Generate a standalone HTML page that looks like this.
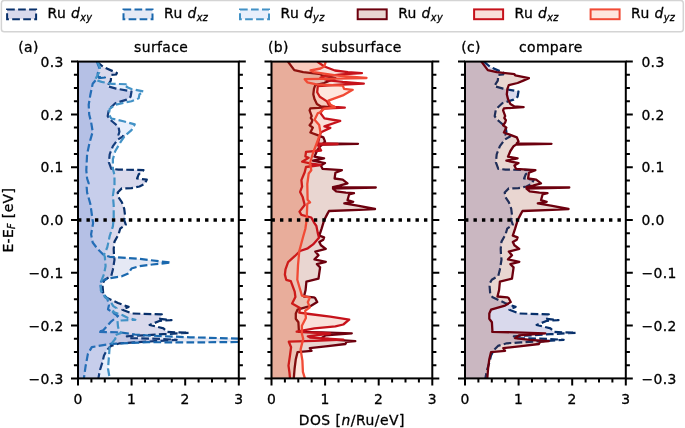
<!DOCTYPE html>
<html><head><meta charset="utf-8"><title>DOS</title><style>
html,body{margin:0;padding:0;background:#fff}
svg{display:block;will-change:transform}
text{font-family:"DejaVu Sans","Liberation Sans",sans-serif;font-size:13.9px;fill:#000;letter-spacing:0.38px;stroke:#000;stroke-width:0.3px}
.i{font-style:italic}
.s{font-size:9.7px;font-style:italic}
</style></head><body>
<svg width="685" height="428" viewBox="0 0 685 428">
<rect width="685" height="428" fill="#fff"/>
<defs>
<clipPath id="c0"><rect x="78.0" y="61.6" width="160.8" height="316.8"/></clipPath>
<clipPath id="c1"><rect x="271.5" y="61.6" width="160.8" height="316.8"/></clipPath>
<clipPath id="c2"><rect x="465.0" y="61.6" width="160.8" height="316.8"/></clipPath>
</defs>
<g clip-path="url(#c0)">
<polygon points="78.0,61.6 96.8,61.6 103.2,66.9 116.9,73.0 116.1,74.5 111.3,74.8 110.8,80.6 107.3,86.2 116.1,88.6 131.5,91.5 130.6,96.7 126.6,99.6 115.3,103.2 108.9,109.3 107.7,116.1 109.7,119.3 112.9,122.0 118.5,126.8 119.4,131.7 118.5,134.9 123.4,136.2 117.7,139.7 112.9,146.2 109.7,154.3 108.9,162.3 111.3,168.8 118.5,169.6 143.5,170.1 138.7,174.4 137.1,178.5 146.8,179.7 144.4,184.1 139.5,186.5 131.5,188.1 121.8,188.4 117.7,192.5 118.5,197.3 121.8,202.1 124.2,208.6 125.0,215.0 124.2,220.2 125.8,224.7 120.2,228.7 118.5,234.4 114.5,241.6 113.7,248.9 114.0,255.0 114.5,259.7 112.9,269.4 111.3,275.8 104.8,279.8 102.4,283.9 103.2,293.5 105.6,297.3 118.0,303.0 128.6,306.9 122.4,309.7 132.0,313.5 161.8,314.4 160.0,318.8 171.5,320.2 160.0,320.8 149.6,324.9 163.6,328.4 167.0,331.9 189.0,332.8 163.6,334.2 126.8,336.3 128.6,338.0 160.0,338.9 176.7,339.8 154.8,341.2 133.8,342.4 119.8,343.3 111.0,345.9 106.7,350.3 104.0,355.6 102.3,362.6 99.7,371.0 98.4,378.4 78.0,378.4" fill="rgba(0,0,128,0.15)"/>
<polyline points="96.8,61.6 103.2,66.9 116.9,73.0 116.1,74.5 111.3,74.8 110.8,80.6 107.3,86.2 116.1,88.6 131.5,91.5 130.6,96.7 126.6,99.6 115.3,103.2 108.9,109.3 107.7,116.1 109.7,119.3 112.9,122.0 118.5,126.8 119.4,131.7 118.5,134.9 123.4,136.2 117.7,139.7 112.9,146.2 109.7,154.3 108.9,162.3 111.3,168.8 118.5,169.6 143.5,170.1 138.7,174.4 137.1,178.5 146.8,179.7 144.4,184.1 139.5,186.5 131.5,188.1 121.8,188.4 117.7,192.5 118.5,197.3 121.8,202.1 124.2,208.6 125.0,215.0 124.2,220.2 125.8,224.7 120.2,228.7 118.5,234.4 114.5,241.6 113.7,248.9 114.0,255.0 114.5,259.7 112.9,269.4 111.3,275.8 104.8,279.8 102.4,283.9 103.2,293.5 105.6,297.3 118.0,303.0 128.6,306.9 122.4,309.7 132.0,313.5 161.8,314.4 160.0,318.8 171.5,320.2 160.0,320.8 149.6,324.9 163.6,328.4 167.0,331.9 189.0,332.8 163.6,334.2 126.8,336.3 128.6,338.0 160.0,338.9 176.7,339.8 154.8,341.2 133.8,342.4 119.8,343.3 111.0,345.9 106.7,350.3 104.0,355.6 102.3,362.6 99.7,371.0 98.4,378.4" fill="none" stroke="#08306b" stroke-width="2.20" stroke-linejoin="round" stroke-dasharray="7.7 3.3"/>
<polygon points="78.0,61.6 96.8,61.6 99.2,67.7 97.6,74.1 98.3,77.0 105.0,77.5 98.0,78.3 95.0,81.0 92.7,83.8 90.3,95.1 88.7,104.8 89.2,114.5 91.1,122.0 92.7,131.7 89.5,143.0 87.1,154.3 86.3,170.4 87.1,178.5 88.7,183.3 86.6,186.0 87.1,192.5 90.3,203.7 91.9,215.0 93.1,223.1 91.1,234.4 92.7,242.5 97.6,248.9 103.2,254.5 109.7,256.8 139.5,258.9 171.0,262.6 152.4,264.5 139.5,266.1 131.5,268.5 128.2,273.4 121.8,276.3 107.3,278.7 100.0,282.0 101.6,291.9 107.3,298.4 109.0,305.0 108.0,309.3 112.0,312.0 118.0,316.0 110.7,321.9 103.3,330.3 98.1,331.9 120.0,332.3 135.0,334.5 148.0,335.5 190.0,337.3 239.0,338.6 262.0,340.3 239.0,342.0 190.0,342.4 148.0,342.2 110.7,343.9 91.8,347.1 87.9,353.9 85.5,366.8 83.9,378.4 78.0,378.4" fill="rgba(82,110,190,0.15)"/>
<polyline points="96.8,61.6 99.2,67.7 97.6,74.1 98.3,77.0 105.0,77.5 98.0,78.3 95.0,81.0 92.7,83.8 90.3,95.1 88.7,104.8 89.2,114.5 91.1,122.0 92.7,131.7 89.5,143.0 87.1,154.3 86.3,170.4 87.1,178.5 88.7,183.3 86.6,186.0 87.1,192.5 90.3,203.7 91.9,215.0 93.1,223.1 91.1,234.4 92.7,242.5 97.6,248.9 103.2,254.5 109.7,256.8 139.5,258.9 171.0,262.6 152.4,264.5 139.5,266.1 131.5,268.5 128.2,273.4 121.8,276.3 107.3,278.7 100.0,282.0 101.6,291.9 107.3,298.4 109.0,305.0 108.0,309.3 112.0,312.0 118.0,316.0 110.7,321.9 103.3,330.3 98.1,331.9 120.0,332.3 135.0,334.5 148.0,335.5 190.0,337.3 239.0,338.6 262.0,340.3 239.0,342.0 190.0,342.4 148.0,342.2 110.7,343.9 91.8,347.1 87.9,353.9 85.5,366.8 83.9,378.4" fill="none" stroke="#1a68ae" stroke-width="2.20" stroke-linejoin="round" stroke-dasharray="7.7 3.3"/>
<polygon points="78.0,61.6 97.6,61.6 100.0,67.7 99.2,72.5 96.8,76.5 95.2,79.8 101.6,81.9 112.1,83.8 128.2,84.3 126.6,87.0 131.5,89.0 143.5,91.5 139.5,94.3 138.7,98.3 131.5,101.2 115.3,104.8 109.7,108.8 108.9,114.5 111.3,118.5 123.4,121.2 134.7,124.4 131.5,130.1 125.0,135.7 121.0,141.4 115.3,151.0 112.9,159.1 112.9,168.8 114.5,175.2 114.5,184.9 112.9,195.7 113.7,205.4 113.7,218.3 112.9,226.3 109.7,236.0 107.3,247.3 104.0,255.0 104.8,256.5 105.6,266.1 104.0,274.2 100.8,282.3 100.8,290.3 104.8,296.8 110.5,301.6 113.3,306.1 116.5,308.2 112.8,311.9 122.2,315.0 128.0,318.0 135.4,319.8 121.0,320.5 117.5,321.0 118.0,326.6 119.0,330.3 121.2,332.9 114.4,335.5 115.4,338.7 110.7,344.5 109.7,346.7 108.9,357.2 108.0,368.5 109.7,378.4 78.0,378.4" fill="rgba(100,149,237,0.15)"/>
<polyline points="97.6,61.6 100.0,67.7 99.2,72.5 96.8,76.5 95.2,79.8 101.6,81.9 112.1,83.8 128.2,84.3 126.6,87.0 131.5,89.0 143.5,91.5 139.5,94.3 138.7,98.3 131.5,101.2 115.3,104.8 109.7,108.8 108.9,114.5 111.3,118.5 123.4,121.2 134.7,124.4 131.5,130.1 125.0,135.7 121.0,141.4 115.3,151.0 112.9,159.1 112.9,168.8 114.5,175.2 114.5,184.9 112.9,195.7 113.7,205.4 113.7,218.3 112.9,226.3 109.7,236.0 107.3,247.3 104.0,255.0 104.8,256.5 105.6,266.1 104.0,274.2 100.8,282.3 100.8,290.3 104.8,296.8 110.5,301.6 113.3,306.1 116.5,308.2 112.8,311.9 122.2,315.0 128.0,318.0 135.4,319.8 121.0,320.5 117.5,321.0 118.0,326.6 119.0,330.3 121.2,332.9 114.4,335.5 115.4,338.7 110.7,344.5 109.7,346.7 108.9,357.2 108.0,368.5 109.7,378.4" fill="none" stroke="#4292c6" stroke-width="2.20" stroke-linejoin="round" stroke-dasharray="7.7 3.3"/>
</g>
<g clip-path="url(#c1)">
<polygon points="271.5,61.6 287.9,61.6 294.3,70.1 303.2,72.2 320.9,74.1 321.7,75.4 335.4,78.2 329.8,80.6 324.1,83.0 315.3,85.1 314.0,88.6 313.3,94.3 314.5,99.1 316.9,104.0 320.9,106.4 330.1,107.2 310.4,108.3 309.6,110.4 310.8,113.6 311.7,116.1 310.8,118.0 312.4,120.1 311.7,122.5 309.6,125.2 312.9,127.6 310.4,132.5 316.9,134.9 323.3,137.3 325.0,141.4 323.3,143.3 358.0,143.8 322.5,144.6 320.1,146.2 316.9,151.0 314.5,156.7 324.1,158.3 312.9,160.7 325.0,163.1 320.9,165.5 322.5,168.8 341.9,170.1 335.4,172.8 334.6,178.5 342.7,179.7 347.5,183.3 339.5,185.7 333.0,187.2 375.8,187.5 333.0,188.6 336.2,191.3 345.9,192.6 354.0,193.2 349.1,194.5 347.5,200.2 353.2,201.8 344.3,203.4 358.8,205.8 375.0,209.0 358.8,209.8 329.0,211.0 327.4,213.9 324.1,220.3 321.7,228.4 319.3,235.6 324.1,237.3 323.3,239.7 319.3,242.1 320.9,245.3 325.8,248.9 315.3,251.6 318.5,255.3 314.5,259.4 325.8,261.8 316.9,264.2 320.1,267.4 318.5,278.7 306.4,281.6 305.6,290.0 304.0,296.5 313.7,297.3 315.1,298.0 317.2,302.1 311.5,305.6 297.5,309.7 295.8,313.5 295.8,318.8 298.4,322.3 298.9,331.0 298.7,331.8 322.1,332.4 351.8,333.3 325.5,335.4 321.5,338.2 336.1,339.8 355.3,341.2 346.5,341.9 345.4,344.0 327.9,346.1 309.8,348.1 311.5,350.8 297.5,352.2 295.8,359.2 294.6,368.5 293.8,378.4 271.5,378.4" fill="rgba(140,35,10,0.19)"/>
<polyline points="287.9,61.6 294.3,70.1 303.2,72.2 320.9,74.1 321.7,75.4 335.4,78.2 329.8,80.6 324.1,83.0 315.3,85.1 314.0,88.6 313.3,94.3 314.5,99.1 316.9,104.0 320.9,106.4 330.1,107.2 310.4,108.3 309.6,110.4 310.8,113.6 311.7,116.1 310.8,118.0 312.4,120.1 311.7,122.5 309.6,125.2 312.9,127.6 310.4,132.5 316.9,134.9 323.3,137.3 325.0,141.4 323.3,143.3 358.0,143.8 322.5,144.6 320.1,146.2 316.9,151.0 314.5,156.7 324.1,158.3 312.9,160.7 325.0,163.1 320.9,165.5 322.5,168.8 341.9,170.1 335.4,172.8 334.6,178.5 342.7,179.7 347.5,183.3 339.5,185.7 333.0,187.2 375.8,187.5 333.0,188.6 336.2,191.3 345.9,192.6 354.0,193.2 349.1,194.5 347.5,200.2 353.2,201.8 344.3,203.4 358.8,205.8 375.0,209.0 358.8,209.8 329.0,211.0 327.4,213.9 324.1,220.3 321.7,228.4 319.3,235.6 324.1,237.3 323.3,239.7 319.3,242.1 320.9,245.3 325.8,248.9 315.3,251.6 318.5,255.3 314.5,259.4 325.8,261.8 316.9,264.2 320.1,267.4 318.5,278.7 306.4,281.6 305.6,290.0 304.0,296.5 313.7,297.3 315.1,298.0 317.2,302.1 311.5,305.6 297.5,309.7 295.8,313.5 295.8,318.8 298.4,322.3 298.9,331.0 298.7,331.8 322.1,332.4 351.8,333.3 325.5,335.4 321.5,338.2 336.1,339.8 355.3,341.2 346.5,341.9 345.4,344.0 327.9,346.1 309.8,348.1 311.5,350.8 297.5,352.2 295.8,359.2 294.6,368.5 293.8,378.4" fill="none" stroke="#6d000e" stroke-width="2.30" stroke-linejoin="round"/>
<polygon points="271.5,61.6 317.2,61.6 324.4,66.5 334.9,70.5 348.0,72.2 361.9,73.1 341.5,74.4 324.4,76.4 320.5,77.7 328.4,80.3 342.8,81.9 363.8,83.6 342.8,84.5 317.8,86.2 317.2,92.2 319.8,96.8 327.0,101.4 329.0,105.3 334.9,106.9 344.8,107.6 323.0,108.5 320.5,113.1 324.4,118.4 340.2,121.0 324.4,126.3 330.3,127.9 321.1,132.2 319.8,135.5 318.0,143.5 337.6,144.0 317.8,144.6 321.1,150.5 306.0,151.9 305.4,156.5 308.7,157.8 302.1,161.7 311.3,163.7 320.5,165.0 306.0,167.0 304.7,172.2 301.4,180.1 302.1,186.7 300.1,191.9 302.7,197.1 304.7,205.0 299.5,211.6 301.4,214.9 311.3,217.5 314.6,223.4 316.4,226.0 317.7,232.6 319.0,237.8 313.1,244.4 307.8,248.3 300.0,251.0 294.7,256.2 288.1,262.1 285.5,269.4 284.9,274.6 286.2,279.8 290.8,281.1 294.7,291.7 295.4,296.9 292.1,303.5 300.0,308.1 299.3,312.7 309.2,314.0 330.2,316.6 349.2,319.7 343.3,324.5 335.4,326.4 314.4,328.4 296.7,331.7 330.2,333.5 307.8,336.3 310.5,337.6 343.3,339.6 314.4,340.9 288.8,341.7 291.1,347.2 290.0,355.4 288.5,365.7 289.5,372.9 290.0,378.4 271.5,378.4" fill="rgba(215,50,10,0.15)"/>
<polyline points="317.2,61.6 324.4,66.5 334.9,70.5 348.0,72.2 361.9,73.1 341.5,74.4 324.4,76.4 320.5,77.7 328.4,80.3 342.8,81.9 363.8,83.6 342.8,84.5 317.8,86.2 317.2,92.2 319.8,96.8 327.0,101.4 329.0,105.3 334.9,106.9 344.8,107.6 323.0,108.5 320.5,113.1 324.4,118.4 340.2,121.0 324.4,126.3 330.3,127.9 321.1,132.2 319.8,135.5 318.0,143.5 337.6,144.0 317.8,144.6 321.1,150.5 306.0,151.9 305.4,156.5 308.7,157.8 302.1,161.7 311.3,163.7 320.5,165.0 306.0,167.0 304.7,172.2 301.4,180.1 302.1,186.7 300.1,191.9 302.7,197.1 304.7,205.0 299.5,211.6 301.4,214.9 311.3,217.5 314.6,223.4 316.4,226.0 317.7,232.6 319.0,237.8 313.1,244.4 307.8,248.3 300.0,251.0 294.7,256.2 288.1,262.1 285.5,269.4 284.9,274.6 286.2,279.8 290.8,281.1 294.7,291.7 295.4,296.9 292.1,303.5 300.0,308.1 299.3,312.7 309.2,314.0 330.2,316.6 349.2,319.7 343.3,324.5 335.4,326.4 314.4,328.4 296.7,331.7 330.2,333.5 307.8,336.3 310.5,337.6 343.3,339.6 314.4,340.9 288.8,341.7 291.1,347.2 290.0,355.4 288.5,365.7 289.5,372.9 290.0,378.4" fill="none" stroke="#c6121b" stroke-width="2.30" stroke-linejoin="round"/>
<polygon points="271.5,61.6 325.7,61.6 324.4,66.5 320.5,68.5 310.6,70.5 313.9,72.2 337.6,75.7 366.5,78.0 337.6,78.6 304.7,79.2 307.3,82.3 316.5,84.3 342.8,85.6 344.1,88.9 352.7,89.8 342.8,95.4 328.4,100.7 330.3,104.6 334.9,107.3 324.4,108.6 319.8,112.5 317.9,113.1 314.6,119.7 319.2,125.0 320.5,132.8 317.2,142.0 313.2,152.5 310.0,163.0 311.3,170.2 308.7,173.5 307.3,184.0 307.6,199.8 310.0,202.4 307.3,203.7 306.7,219.5 305.4,228.7 303.2,236.5 299.3,251.0 298.0,265.4 297.3,279.8 300.0,289.0 301.9,295.6 309.8,297.6 307.8,302.2 309.8,307.4 305.2,310.7 305.9,317.9 301.9,325.8 301.9,333.7 303.2,338.9 300.6,349.4 302.4,360.6 302.9,371.9 304.9,378.4 271.5,378.4" fill="rgba(245,90,30,0.15)"/>
<polyline points="325.7,61.6 324.4,66.5 320.5,68.5 310.6,70.5 313.9,72.2 337.6,75.7 366.5,78.0 337.6,78.6 304.7,79.2 307.3,82.3 316.5,84.3 342.8,85.6 344.1,88.9 352.7,89.8 342.8,95.4 328.4,100.7 330.3,104.6 334.9,107.3 324.4,108.6 319.8,112.5 317.9,113.1 314.6,119.7 319.2,125.0 320.5,132.8 317.2,142.0 313.2,152.5 310.0,163.0 311.3,170.2 308.7,173.5 307.3,184.0 307.6,199.8 310.0,202.4 307.3,203.7 306.7,219.5 305.4,228.7 303.2,236.5 299.3,251.0 298.0,265.4 297.3,279.8 300.0,289.0 301.9,295.6 309.8,297.6 307.8,302.2 309.8,307.4 305.2,310.7 305.9,317.9 301.9,325.8 301.9,333.7 303.2,338.9 300.6,349.4 302.4,360.6 302.9,371.9 304.9,378.4" fill="none" stroke="#f14a35" stroke-width="2.30" stroke-linejoin="round"/>
</g>
<g clip-path="url(#c2)">
<polygon points="465.0,61.6 483.8,61.6 490.2,66.9 503.9,73.0 503.1,74.5 498.3,74.8 497.8,80.6 494.3,86.2 503.1,88.6 518.5,91.5 517.6,96.7 513.6,99.6 502.3,103.2 495.9,109.3 494.7,116.1 496.7,119.3 499.9,122.0 505.5,126.8 506.4,131.7 505.5,134.9 510.4,136.2 504.7,139.7 499.9,146.2 496.7,154.3 495.9,162.3 498.3,168.8 505.5,169.6 530.5,170.1 525.7,174.4 524.1,178.5 533.8,179.7 531.4,184.1 526.5,186.5 518.5,188.1 508.8,188.4 504.7,192.5 505.5,197.3 508.8,202.1 511.2,208.6 512.0,215.0 511.2,220.2 512.8,224.7 507.2,228.7 505.5,234.4 501.5,241.6 500.7,248.9 501.0,255.0 501.5,259.7 499.9,269.4 498.3,275.8 491.8,279.8 489.4,283.9 490.2,293.5 492.6,297.3 505.0,303.0 515.6,306.9 509.4,309.7 519.0,313.5 548.8,314.4 547.0,318.8 558.5,320.2 547.0,320.8 536.6,324.9 550.6,328.4 554.0,331.9 576.0,332.8 550.6,334.2 513.8,336.3 515.6,338.0 547.0,338.9 563.7,339.8 541.8,341.2 520.8,342.4 506.8,343.3 498.0,345.9 493.7,350.3 491.0,355.6 489.3,362.6 486.7,371.0 485.4,378.4 465.0,378.4" fill="rgba(0,0,128,0.15)"/>
<polyline points="483.8,61.6 490.2,66.9 503.9,73.0 503.1,74.5 498.3,74.8 497.8,80.6 494.3,86.2 503.1,88.6 518.5,91.5 517.6,96.7 513.6,99.6 502.3,103.2 495.9,109.3 494.7,116.1 496.7,119.3 499.9,122.0 505.5,126.8 506.4,131.7 505.5,134.9 510.4,136.2 504.7,139.7 499.9,146.2 496.7,154.3 495.9,162.3 498.3,168.8 505.5,169.6 530.5,170.1 525.7,174.4 524.1,178.5 533.8,179.7 531.4,184.1 526.5,186.5 518.5,188.1 508.8,188.4 504.7,192.5 505.5,197.3 508.8,202.1 511.2,208.6 512.0,215.0 511.2,220.2 512.8,224.7 507.2,228.7 505.5,234.4 501.5,241.6 500.7,248.9 501.0,255.0 501.5,259.7 499.9,269.4 498.3,275.8 491.8,279.8 489.4,283.9 490.2,293.5 492.6,297.3 505.0,303.0 515.6,306.9 509.4,309.7 519.0,313.5 548.8,314.4 547.0,318.8 558.5,320.2 547.0,320.8 536.6,324.9 550.6,328.4 554.0,331.9 576.0,332.8 550.6,334.2 513.8,336.3 515.6,338.0 547.0,338.9 563.7,339.8 541.8,341.2 520.8,342.4 506.8,343.3 498.0,345.9 493.7,350.3 491.0,355.6 489.3,362.6 486.7,371.0 485.4,378.4" fill="none" stroke="#08306b" stroke-width="2.20" stroke-linejoin="round" stroke-dasharray="7.7 3.3"/>
<polygon points="465.0,61.6 481.4,61.6 487.8,70.1 496.7,72.2 514.4,74.1 515.2,75.4 528.9,78.2 523.3,80.6 517.6,83.0 508.8,85.1 507.5,88.6 506.8,94.3 508.0,99.1 510.4,104.0 514.4,106.4 523.6,107.2 503.9,108.3 503.1,110.4 504.3,113.6 505.2,116.1 504.3,118.0 505.9,120.1 505.2,122.5 503.1,125.2 506.4,127.6 503.9,132.5 510.4,134.9 516.8,137.3 518.5,141.4 516.8,143.3 551.5,143.8 516.0,144.6 513.6,146.2 510.4,151.0 508.0,156.7 517.6,158.3 506.4,160.7 518.5,163.1 514.4,165.5 516.0,168.8 535.4,170.1 528.9,172.8 528.1,178.5 536.2,179.7 541.0,183.3 533.0,185.7 526.5,187.2 569.3,187.5 526.5,188.6 529.7,191.3 539.4,192.6 547.5,193.2 542.6,194.5 541.0,200.2 546.7,201.8 537.8,203.4 552.3,205.8 568.5,209.0 552.3,209.8 522.5,211.0 520.9,213.9 517.6,220.3 515.2,228.4 512.8,235.6 517.6,237.3 516.8,239.7 512.8,242.1 514.4,245.3 519.3,248.9 508.8,251.6 512.0,255.3 508.0,259.4 519.3,261.8 510.4,264.2 513.6,267.4 512.0,278.7 499.9,281.6 499.1,290.0 497.5,296.5 507.2,297.3 508.6,298.0 510.7,302.1 505.0,305.6 491.0,309.7 489.3,313.5 489.3,318.8 491.9,322.3 492.4,331.0 492.2,331.8 515.6,332.4 545.3,333.3 519.0,335.4 515.0,338.2 529.6,339.8 548.8,341.2 540.0,341.9 538.9,344.0 521.4,346.1 503.3,348.1 505.0,350.8 491.0,352.2 489.3,359.2 488.1,368.5 487.3,378.4 465.0,378.4" fill="rgba(140,35,10,0.19)"/>
<polyline points="481.4,61.6 487.8,70.1 496.7,72.2 514.4,74.1 515.2,75.4 528.9,78.2 523.3,80.6 517.6,83.0 508.8,85.1 507.5,88.6 506.8,94.3 508.0,99.1 510.4,104.0 514.4,106.4 523.6,107.2 503.9,108.3 503.1,110.4 504.3,113.6 505.2,116.1 504.3,118.0 505.9,120.1 505.2,122.5 503.1,125.2 506.4,127.6 503.9,132.5 510.4,134.9 516.8,137.3 518.5,141.4 516.8,143.3 551.5,143.8 516.0,144.6 513.6,146.2 510.4,151.0 508.0,156.7 517.6,158.3 506.4,160.7 518.5,163.1 514.4,165.5 516.0,168.8 535.4,170.1 528.9,172.8 528.1,178.5 536.2,179.7 541.0,183.3 533.0,185.7 526.5,187.2 569.3,187.5 526.5,188.6 529.7,191.3 539.4,192.6 547.5,193.2 542.6,194.5 541.0,200.2 546.7,201.8 537.8,203.4 552.3,205.8 568.5,209.0 552.3,209.8 522.5,211.0 520.9,213.9 517.6,220.3 515.2,228.4 512.8,235.6 517.6,237.3 516.8,239.7 512.8,242.1 514.4,245.3 519.3,248.9 508.8,251.6 512.0,255.3 508.0,259.4 519.3,261.8 510.4,264.2 513.6,267.4 512.0,278.7 499.9,281.6 499.1,290.0 497.5,296.5 507.2,297.3 508.6,298.0 510.7,302.1 505.0,305.6 491.0,309.7 489.3,313.5 489.3,318.8 491.9,322.3 492.4,331.0 492.2,331.8 515.6,332.4 545.3,333.3 519.0,335.4 515.0,338.2 529.6,339.8 548.8,341.2 540.0,341.9 538.9,344.0 521.4,346.1 503.3,348.1 505.0,350.8 491.0,352.2 489.3,359.2 488.1,368.5 487.3,378.4" fill="none" stroke="#6d000e" stroke-width="2.30" stroke-linejoin="round"/>
</g>
<line x1="78.0" y1="220.0" x2="238.8" y2="220.0" stroke="#000" stroke-width="3.4" stroke-dasharray="3.4 5.07"/>
<path d="M78.0 378.40h-7.0M238.8 378.40h7.0M78.0 365.20h-4.1M238.8 365.20h4.1M78.0 352.00h-4.1M238.8 352.00h4.1M78.0 338.80h-4.1M238.8 338.80h4.1M78.0 325.60h-7.0M238.8 325.60h7.0M78.0 312.40h-4.1M238.8 312.40h4.1M78.0 299.20h-4.1M238.8 299.20h4.1M78.0 286.00h-4.1M238.8 286.00h4.1M78.0 272.80h-7.0M238.8 272.80h7.0M78.0 259.60h-4.1M238.8 259.60h4.1M78.0 246.40h-4.1M238.8 246.40h4.1M78.0 233.20h-4.1M238.8 233.20h4.1M78.0 220.00h-7.0M238.8 220.00h7.0M78.0 206.80h-4.1M238.8 206.80h4.1M78.0 193.60h-4.1M238.8 193.60h4.1M78.0 180.40h-4.1M238.8 180.40h4.1M78.0 167.20h-7.0M238.8 167.20h7.0M78.0 154.00h-4.1M238.8 154.00h4.1M78.0 140.80h-4.1M238.8 140.80h4.1M78.0 127.60h-4.1M238.8 127.60h4.1M78.0 114.40h-7.0M238.8 114.40h7.0M78.0 101.20h-4.1M238.8 101.20h4.1M78.0 88.00h-4.1M238.8 88.00h4.1M78.0 74.80h-4.1M238.8 74.80h4.1M78.0 61.60h-7.0M238.8 61.60h7.0M78.00 378.4v7.0M91.40 378.4v4.1M104.80 378.4v4.1M118.20 378.4v4.1M131.60 378.4v7.0M145.00 378.4v4.1M158.40 378.4v4.1M171.80 378.4v4.1M185.20 378.4v7.0M198.60 378.4v4.1M212.00 378.4v4.1M225.40 378.4v4.1M238.80 378.4v7.0" stroke="#000" stroke-width="2.00" fill="none"/>
<rect x="78.0" y="61.6" width="160.8" height="316.8" fill="none" stroke="#000" stroke-width="2.00"/>
<text x="78.0" y="403.9" text-anchor="middle">0</text>
<text x="131.6" y="403.9" text-anchor="middle">1</text>
<text x="185.2" y="403.9" text-anchor="middle">2</text>
<text x="238.8" y="403.9" text-anchor="middle">3</text>
<line x1="271.5" y1="220.0" x2="432.3" y2="220.0" stroke="#000" stroke-width="3.4" stroke-dasharray="3.4 5.07"/>
<path d="M271.5 378.40h-7.0M432.3 378.40h7.0M271.5 365.20h-4.1M432.3 365.20h4.1M271.5 352.00h-4.1M432.3 352.00h4.1M271.5 338.80h-4.1M432.3 338.80h4.1M271.5 325.60h-7.0M432.3 325.60h7.0M271.5 312.40h-4.1M432.3 312.40h4.1M271.5 299.20h-4.1M432.3 299.20h4.1M271.5 286.00h-4.1M432.3 286.00h4.1M271.5 272.80h-7.0M432.3 272.80h7.0M271.5 259.60h-4.1M432.3 259.60h4.1M271.5 246.40h-4.1M432.3 246.40h4.1M271.5 233.20h-4.1M432.3 233.20h4.1M271.5 220.00h-7.0M432.3 220.00h7.0M271.5 206.80h-4.1M432.3 206.80h4.1M271.5 193.60h-4.1M432.3 193.60h4.1M271.5 180.40h-4.1M432.3 180.40h4.1M271.5 167.20h-7.0M432.3 167.20h7.0M271.5 154.00h-4.1M432.3 154.00h4.1M271.5 140.80h-4.1M432.3 140.80h4.1M271.5 127.60h-4.1M432.3 127.60h4.1M271.5 114.40h-7.0M432.3 114.40h7.0M271.5 101.20h-4.1M432.3 101.20h4.1M271.5 88.00h-4.1M432.3 88.00h4.1M271.5 74.80h-4.1M432.3 74.80h4.1M271.5 61.60h-7.0M432.3 61.60h7.0M271.50 378.4v7.0M284.90 378.4v4.1M298.30 378.4v4.1M311.70 378.4v4.1M325.10 378.4v7.0M338.50 378.4v4.1M351.90 378.4v4.1M365.30 378.4v4.1M378.70 378.4v7.0M392.10 378.4v4.1M405.50 378.4v4.1M418.90 378.4v4.1M432.30 378.4v7.0" stroke="#000" stroke-width="2.00" fill="none"/>
<rect x="271.5" y="61.6" width="160.8" height="316.8" fill="none" stroke="#000" stroke-width="2.00"/>
<text x="271.5" y="403.9" text-anchor="middle">0</text>
<text x="325.1" y="403.9" text-anchor="middle">1</text>
<text x="378.7" y="403.9" text-anchor="middle">2</text>
<text x="432.3" y="403.9" text-anchor="middle">3</text>
<line x1="465.0" y1="220.0" x2="625.8" y2="220.0" stroke="#000" stroke-width="3.4" stroke-dasharray="3.4 5.07"/>
<path d="M465.0 378.40h-7.0M625.8 378.40h7.0M465.0 365.20h-4.1M625.8 365.20h4.1M465.0 352.00h-4.1M625.8 352.00h4.1M465.0 338.80h-4.1M625.8 338.80h4.1M465.0 325.60h-7.0M625.8 325.60h7.0M465.0 312.40h-4.1M625.8 312.40h4.1M465.0 299.20h-4.1M625.8 299.20h4.1M465.0 286.00h-4.1M625.8 286.00h4.1M465.0 272.80h-7.0M625.8 272.80h7.0M465.0 259.60h-4.1M625.8 259.60h4.1M465.0 246.40h-4.1M625.8 246.40h4.1M465.0 233.20h-4.1M625.8 233.20h4.1M465.0 220.00h-7.0M625.8 220.00h7.0M465.0 206.80h-4.1M625.8 206.80h4.1M465.0 193.60h-4.1M625.8 193.60h4.1M465.0 180.40h-4.1M625.8 180.40h4.1M465.0 167.20h-7.0M625.8 167.20h7.0M465.0 154.00h-4.1M625.8 154.00h4.1M465.0 140.80h-4.1M625.8 140.80h4.1M465.0 127.60h-4.1M625.8 127.60h4.1M465.0 114.40h-7.0M625.8 114.40h7.0M465.0 101.20h-4.1M625.8 101.20h4.1M465.0 88.00h-4.1M625.8 88.00h4.1M465.0 74.80h-4.1M625.8 74.80h4.1M465.0 61.60h-7.0M625.8 61.60h7.0M465.00 378.4v7.0M478.40 378.4v4.1M491.80 378.4v4.1M505.20 378.4v4.1M518.60 378.4v7.0M532.00 378.4v4.1M545.40 378.4v4.1M558.80 378.4v4.1M572.20 378.4v7.0M585.60 378.4v4.1M599.00 378.4v4.1M612.40 378.4v4.1M625.80 378.4v7.0" stroke="#000" stroke-width="2.00" fill="none"/>
<rect x="465.0" y="61.6" width="160.8" height="316.8" fill="none" stroke="#000" stroke-width="2.00"/>
<text x="465.0" y="403.9" text-anchor="middle">0</text>
<text x="518.6" y="403.9" text-anchor="middle">1</text>
<text x="572.2" y="403.9" text-anchor="middle">2</text>
<text x="625.8" y="403.9" text-anchor="middle">3</text>
<text x="63.8" y="383.6" text-anchor="end">−0.3</text>
<text x="641.4" y="383.6">−0.3</text>
<text x="63.8" y="330.8" text-anchor="end">−0.2</text>
<text x="641.4" y="330.8">−0.2</text>
<text x="63.8" y="278.0" text-anchor="end">−0.1</text>
<text x="641.4" y="278.0">−0.1</text>
<text x="63.8" y="225.2" text-anchor="end">0.0</text>
<text x="641.4" y="225.2">0.0</text>
<text x="63.8" y="172.4" text-anchor="end">0.1</text>
<text x="641.4" y="172.4">0.1</text>
<text x="63.8" y="119.6" text-anchor="end">0.2</text>
<text x="641.4" y="119.6">0.2</text>
<text x="63.8" y="66.8" text-anchor="end">0.3</text>
<text x="641.4" y="66.8">0.3</text>
<text x="18.3" y="51.8">(a)</text>
<text x="161.1" y="51.8" text-anchor="middle">surface</text>
<text x="268.0" y="51.8">(b)</text>
<text x="361.6" y="51.8" text-anchor="middle">subsurface</text>
<text x="461.3" y="51.8">(c)</text>
<text x="550.8" y="51.8" text-anchor="middle">compare</text>
<text x="351.8" y="425.4" text-anchor="middle" style="letter-spacing:0.48px">DOS [<tspan class="i">n</tspan>/Ru/eV]</text>
<text transform="translate(12.9,252.6) rotate(-90)">E-E<tspan class="s" dy="2.3">F</tspan><tspan dy="-2.3"> [eV]</tspan></text>
<rect x="1.4" y="0.4" width="681.9" height="31.4" rx="2.8" fill="#fff" stroke="#d4d4d4" stroke-width="1.5"/>
<rect x="7.1" y="9.4" width="29" height="9.8" fill="rgba(0,0,128,0.15)" stroke="#08306b" stroke-width="2" stroke-dasharray="7.7 3.3"/>
<text x="47.6" y="17.6">Ru <tspan class="i">d</tspan><tspan class="s" dy="2.9">xy</tspan></text>
<rect x="123.5" y="9.4" width="29" height="9.8" fill="rgba(82,110,190,0.15)" stroke="#1a68ae" stroke-width="2" stroke-dasharray="7.7 3.3"/>
<text x="164.1" y="17.6">Ru <tspan class="i">d</tspan><tspan class="s" dy="2.9">xz</tspan></text>
<rect x="240.0" y="9.4" width="29" height="9.8" fill="rgba(100,149,237,0.15)" stroke="#4292c6" stroke-width="2" stroke-dasharray="7.7 3.3"/>
<text x="280.5" y="17.6">Ru <tspan class="i">d</tspan><tspan class="s" dy="2.9">yz</tspan></text>
<rect x="357.7" y="9.4" width="29" height="9.8" fill="rgba(140,35,10,0.19)" stroke="#6d000e" stroke-width="2"/>
<text x="398.2" y="17.6">Ru <tspan class="i">d</tspan><tspan class="s" dy="2.9">xy</tspan></text>
<rect x="474.1" y="9.4" width="29" height="9.8" fill="rgba(215,50,10,0.15)" stroke="#c6121b" stroke-width="2"/>
<text x="514.6" y="17.6">Ru <tspan class="i">d</tspan><tspan class="s" dy="2.9">xz</tspan></text>
<rect x="590.6" y="9.4" width="29" height="9.8" fill="rgba(245,90,30,0.15)" stroke="#f14a35" stroke-width="2"/>
<text x="631.1" y="17.6">Ru <tspan class="i">d</tspan><tspan class="s" dy="2.9">yz</tspan></text>
</svg></body></html>
